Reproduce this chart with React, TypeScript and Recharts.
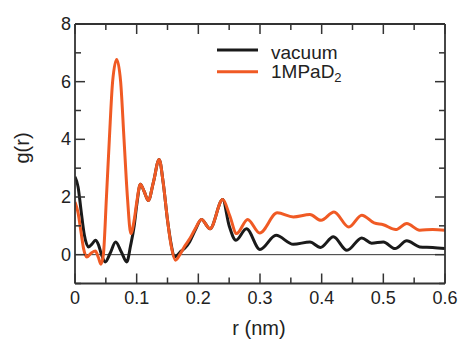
import React from 'react';
import { LineChart, Line, XAxis, YAxis, ReferenceLine } from 'recharts';

const xTicks = [0, 0.05, 0.1, 0.15, 0.2, 0.25, 0.3, 0.35, 0.4, 0.45, 0.5, 0.55, 0.6];
const yTicks = [-1, 0, 1, 2, 3, 4, 5, 6, 7, 8];

const seriesNames = ['vacuum', '1MPaD'];

const vacR = [0, 0.005, 0.01, 0.015, 0.022, 0.028, 0.033, 0.038, 0.043, 0.049, 0.057, 0.066, 0.075, 0.084, 0.09, 0.096, 0.1, 0.106, 0.112, 0.119, 0.127, 0.1365, 0.143, 0.15, 0.156, 0.161, 0.166, 0.172, 0.178, 0.186, 0.195, 0.205, 0.219, 0.2395, 0.25, 0.261, 0.278, 0.3, 0.326, 0.354, 0.381, 0.398, 0.419, 0.441, 0.465, 0.481, 0.5, 0.519, 0.538, 0.559, 0.58, 0.6];
const vacG = [2.7, 2.35, 1.5, 0.7, 0.27, 0.38, 0.5, 0.35, 0.0, -0.25, 0.05, 0.44, 0.1, -0.25, 0.3, 1.0, 1.7, 2.44, 2.2, 1.88, 2.5, 3.3, 2.5, 1.2, 0.35, -0.08, -0.02, 0.12, 0.22, 0.45, 0.85, 1.22, 0.9, 1.91, 1.0, 0.5, 0.9, 0.18, 0.67, 0.36, 0.44, 0.25, 0.62, 0.15, 0.58, 0.4, 0.44, 0.21, 0.48, 0.27, 0.25, 0.21];

const d2R = [0, 0.005, 0.01, 0.014, 0.019, 0.026, 0.033, 0.038, 0.042, 0.046, 0.051, 0.0557, 0.061, 0.0676, 0.074, 0.0795, 0.085, 0.0905, 0.096, 0.1, 0.106, 0.112, 0.119, 0.127, 0.1365, 0.143, 0.15, 0.156, 0.163, 0.17, 0.178, 0.186, 0.195, 0.205, 0.219, 0.2395, 0.251, 0.262, 0.28, 0.2995, 0.328, 0.354, 0.381, 0.399, 0.42, 0.444, 0.465, 0.485, 0.5, 0.52, 0.538, 0.559, 0.58, 0.6];
const d2G = [1.83, 1.45, 0.75, 0.2, -0.08, 0.05, 0.13, -0.1, -0.33, 0.0, 2.0, 4.0, 6.0, 6.77, 6.0, 4.0, 2.0, 0.73, 1.2, 1.8, 2.44, 2.2, 1.88, 2.5, 3.3, 2.5, 1.2, 0.3, -0.19, 0.0, 0.3, 0.55, 0.9, 1.22, 0.9, 1.91, 1.35, 0.73, 1.22, 0.75, 1.45, 1.31, 1.39, 1.19, 1.48, 0.96, 1.37, 1.1, 1.04, 0.87, 1.08, 0.85, 0.87, 0.85];

const vacData = vacR.map((r, i) => ({ r, g: vacG[i] }));
const d2Data = d2R.map((r, i) => ({ r, g: d2G[i] }));

const FONT = '"Liberation Sans", Arial, Helvetica, sans-serif';
const AX = '#333333';
const TXT = '#222222';
const BLACK = '#1a1a1a';
const ORANGE = '#f05a24';

const isMajorX = (v: number) => Math.abs(v * 10 - Math.round(v * 10)) < 1e-6;
const isMajorY = (v: number) => Math.abs(v / 2 - Math.round(v / 2)) < 1e-6;

const BottomTick = (props: any) => {
  const { x, y, payload } = props;
  const v = payload.value;
  const major = isMajorX(v);
  return (
    <g>
      <line x1={x} x2={x} y1={y} y2={y - (major ? 10 : 6)} stroke={AX} strokeWidth={1.5} />
      {major && (
        <text x={x} y={y + 20} textAnchor="middle" fontFamily={FONT} fontSize={18} fill={TXT}>
          {v === 0 ? '0' : v.toFixed(1)}
        </text>
      )}
    </g>
  );
};

const TopTick = (props: any) => {
  const { x, y, payload } = props;
  const major = isMajorX(payload.value);
  return <line x1={x} x2={x} y1={y} y2={y + (major ? 10 : 6)} stroke={AX} strokeWidth={1.5} />;
};

const LeftTick = (props: any) => {
  const { x, y, payload } = props;
  const v = payload.value;
  const major = isMajorY(v);
  return (
    <g>
      <line x1={x} x2={x + (major ? 10 : 6)} y1={y} y2={y} stroke={AX} strokeWidth={1.5} />
      {major && v >= 0 && (
        <text x={x - 4} y={y + 6} textAnchor="end" fontFamily={FONT} fontSize={18} fill={TXT}>
          {String(v)}
        </text>
      )}
    </g>
  );
};

const RightTick = (props: any) => {
  const { x, y, payload } = props;
  const major = isMajorY(payload.value);
  return <line x1={x} x2={x - (major ? 10 : 6)} y1={y} y2={y} stroke={AX} strokeWidth={1.5} />;
};

export default function App() {
  return (
    <div style={{ position: 'absolute', left: 0, top: 0, width: 461, height: 341, background: '#fff' }}>
      <LineChart
        width={461}
        height={341}
        margin={{ top: 23, right: 15, bottom: 17.5, left: 0 }}
      >
        <XAxis
          xAxisId="b"
          dataKey="r"
          type="number"
          domain={[0, 0.6]}
          ticks={xTicks}
          allowDataOverflow
          orientation="bottom"
          height={40}
          tickSize={0}
          tickMargin={0}
          tickLine={false}
          tick={BottomTick}
          axisLine={{ stroke: AX, strokeWidth: 1.8 }}
          interval={0}
        />
        <XAxis
          xAxisId="t"
          dataKey="r"
          type="number"
          domain={[0, 0.6]}
          ticks={xTicks}
          allowDataOverflow
          orientation="top"
          height={1}
          tickSize={0}
          tickMargin={0}
          tickLine={false}
          tick={TopTick}
          axisLine={{ stroke: AX, strokeWidth: 1.8 }}
          interval={0}
        />
        <YAxis
          yAxisId="l"
          type="number"
          domain={[-1, 8]}
          ticks={yTicks}
          allowDataOverflow
          orientation="left"
          width={75}
          tickSize={0}
          tickMargin={0}
          tickLine={false}
          tick={LeftTick}
          axisLine={{ stroke: AX, strokeWidth: 1.8 }}
          interval={0}
        />
        <YAxis
          yAxisId="r"
          type="number"
          domain={[-1, 8]}
          ticks={yTicks}
          allowDataOverflow
          orientation="right"
          width={1}
          tickSize={0}
          tickMargin={0}
          tickLine={false}
          tick={RightTick}
          axisLine={{ stroke: AX, strokeWidth: 1.8 }}
          interval={0}
        />
        <ReferenceLine xAxisId="b" yAxisId="l" y={0} stroke={AX} strokeWidth={1} />
        <Line
          xAxisId="b"
          yAxisId="l"
          data={vacData}
          dataKey="g"
          type="monotone"
          stroke={BLACK}
          strokeWidth={3}
          dot={false}
          isAnimationActive={false}
          name={seriesNames[0]}
        />
        <Line
          xAxisId="b"
          yAxisId="l"
          data={d2Data}
          dataKey="g"
          type="monotone"
          stroke={ORANGE}
          strokeWidth={3}
          dot={false}
          isAnimationActive={false}
          name={seriesNames[1]}
        />
      </LineChart>
      <svg
        width={461}
        height={341}
        style={{ position: 'absolute', left: 0, top: 0, pointerEvents: 'none' }}
      >
        <line x1={217} x2={258} y1={50} y2={50} stroke={BLACK} strokeWidth={3} />
        <line x1={217} x2={258} y1={71.7} y2={71.7} stroke={ORANGE} strokeWidth={3} />
        <text x={271} y={58.5} fontFamily={FONT} fontSize={19} fill={TXT}>
          {seriesNames[0]}
        </text>
        <text x={271} y={78} fontFamily={FONT} fontSize={19} fill={TXT}>
          {seriesNames[1]}
          <tspan fontSize={13} dy={3.5}>2</tspan>
        </text>
        <text
          x={29}
          y={148}
          transform="rotate(-90, 29, 148)"
          textAnchor="middle"
          fontFamily={FONT}
          fontSize={20}
          fill={TXT}
        >
          g(r)
        </text>
        <text x={259} y={335} textAnchor="middle" fontFamily={FONT} fontSize={20} fill={TXT}>
          r (nm)
        </text>
      </svg>
    </div>
  );
}
